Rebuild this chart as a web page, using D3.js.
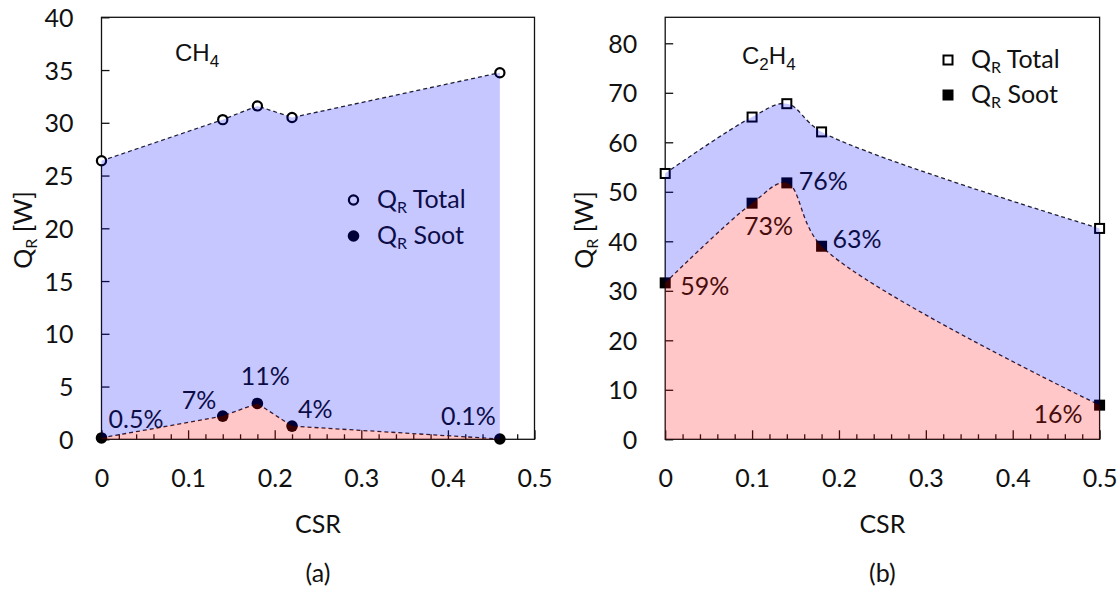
<!DOCTYPE html>
<html><head><meta charset="utf-8">
<script src="https://cdn.jsdelivr.net/npm/d3@7"></script>
<style>body{margin:0;background:#fff}svg{display:block}</style>
</head><body>
<svg id="chart" width="1117" height="594"></svg>
<script>
// ---- data ----
const csrCH4   = [0, 0.14, 0.18, 0.22, 0.46];
const totalCH4 = [26.4, 30.3, 31.6, 30.5, 34.75];
const sootCH4  = [0.13, 2.2, 3.4, 1.25, 0.03];
const pctCH4   = ["0.5%", "7%", "11%", "4%", "0.1%"];

const csrC2H4   = [0, 0.1, 0.14, 0.18, 0.5];
const totalC2H4 = [53.7, 65.1, 67.8, 62.1, 42.6];
const sootC2H4  = [31.6, 47.7, 51.8, 39.0, 6.9];
const pctC2H4   = ["59%", "73%", "76%", "63%", "16%"];

const xTickValues = [0, 0.1, 0.2, 0.3, 0.4, 0.5];
const xTickLabels = ["0", "0.1", "0.2", "0.3", "0.4", "0.5"];
const yTicksCH4 = [0, 5, 10, 15, 20, 25, 30, 35, 40];
const yTicksC2H4 = [0, 10, 20, 30, 40, 50, 60, 70, 80];
const legendLabels = ["Total", "Soot"];

// ---- layout ----
const FONT = "Lato, 'Open Sans', sans-serif";
const panels = [
  { csr: csrCH4, total: totalCH4, soot: sootCH4, pct: pctCH4, yTicks: yTicksCH4, yMax: 40,
    x0: 101.5, x1: 534.5, top: 17.3, bottom: 439.3, marker: "circle", curve: d3.curveLinear,
    title: ["CH", "4"], titleX: 175, titleY: 61, titleSub2: null,
    yTitleX: 32, legendX: 353.5, legendTextX: 377, legendY: [208, 244],
    letter: "(a)",
    pctLayout: [[7, -10, "start"], [-41, -7, "start"], [8, -18, "middle"], [6, -8, "start"], [-4, -14, "end"]] },
  { csr: csrC2H4, total: totalC2H4, soot: sootC2H4, pct: pctC2H4, yTicks: yTicksC2H4, yMax: 85.25,
    x0: 665.2, x1: 1099.6, top: 17.3, bottom: 439.3, marker: "square", curve: d3.curveCatmullRom.alpha(0.5),
    title: ["C", "2", "H", "4"], titleX: 742, titleY: 64,
    yTitleX: 593, legendX: 948, legendTextX: 971, legendY: [68, 103],
    letter: "(b)",
    pctLayout: [[15, 12, "start"], [-8, 32, "start"], [12, 7, "start"], [11, 2, "start"], [-17, 18, "end"]] }
];

const svg = d3.select("#chart");

panels.forEach(p => {
  const x = d3.scaleLinear().domain([0, 0.5]).range([p.x0, p.x1]);
  const y = d3.scaleLinear().domain([0, p.yMax]).range([p.bottom, p.top]);
  const g = svg.append("g");
  const pts = p.csr.map((c, i) => ({ c, t: p.total[i], s: p.soot[i], pct: p.pct[i], lay: p.pctLayout[i] }));

  // frame
  g.append("rect").attr("x", p.x0).attr("y", p.top).attr("width", p.x1 - p.x0).attr("height", p.bottom - p.top)
    .attr("fill", "none").attr("stroke", "#111").attr("stroke-width", 1.3);

  // y axis (ticks inward)
  const yAxis = d3.axisLeft(y).tickValues(p.yTicks).tickSize(-8).tickPadding(36).tickFormat(d3.format("d"));
  const ya = g.append("g").attr("transform", `translate(${p.x0},0)`).call(yAxis);
  ya.select(".domain").remove();
  ya.selectAll(".tick line").attr("stroke", "#111").attr("stroke-width", 1.3);
  ya.selectAll(".tick text").attr("font-family", FONT).attr("font-size", 25).attr("fill", "#111")
    .attr("x", -28).attr("dy", "0.36em");

  // x axis major ticks
  const xAxis = d3.axisBottom(x).tickValues(xTickValues).tickSize(-9).tickFormat((d, i) => xTickLabels[i]);
  const xa = g.append("g").attr("transform", `translate(0,${p.bottom})`).call(xAxis);
  xa.select(".domain").remove();
  xa.selectAll(".tick line").attr("stroke", "#111").attr("stroke-width", 1.3);
  xa.selectAll(".tick text").attr("font-family", FONT).attr("font-size", 25).attr("fill", "#111")
    .attr("y", 48).attr("dy", 0);
  // minor ticks
  const minor = d3.range(0, 0.5001, 0.02).filter(v => Math.abs(v * 10 - Math.round(v * 10)) > 1e-6);
  const xm = g.append("g").attr("transform", `translate(0,${p.bottom})`)
    .call(d3.axisBottom(x).tickValues(minor).tickSize(-5).tickFormat(""));
  xm.select(".domain").remove();
  xm.selectAll(".tick line").attr("stroke", "#111").attr("stroke-width", 1.3);

  // axis titles
  const cx = (p.x0 + p.x1) / 2;
  g.append("text").attr("x", cx).attr("y", 533).attr("text-anchor", "middle")
    .attr("font-family", FONT).attr("font-size", 25).attr("fill", "#111").text("CSR");
  g.append("text").attr("x", cx).attr("y", 582).attr("text-anchor", "middle")
    .attr("font-family", FONT).attr("font-size", 25).attr("fill", "#111").text(p.letter);
  const yt = g.append("text").attr("transform", `translate(${p.yTitleX},230) rotate(-90)`)
    .attr("text-anchor", "middle").attr("font-family", FONT).attr("font-size", 25).attr("fill", "#111");
  yt.append("tspan").text("Q");
  yt.append("tspan").attr("font-size", 16).attr("dy", 5).text("R");
  yt.append("tspan").attr("dy", -5).text(" [W]");

  // panel title (species)
  const tt = g.append("text").attr("x", p.titleX).attr("y", p.titleY)
    .attr("font-family", "'Liberation Sans', Arial, sans-serif").attr("font-size", 24).attr("fill", "#111");
  p.title.forEach((s, i) => {
    const sub = i % 2 === 1;
    tt.append("tspan").attr("font-size", sub ? 17 : 24).attr("dy", i === 0 ? 0 : (sub ? 6 : -6)).text(s);
  });

  // lines
  const lineT = d3.line().x(d => x(d.c)).y(d => y(d.t)).curve(p.curve);
  const lineS = d3.line().x(d => x(d.c)).y(d => y(d.s)).curve(p.curve);
  [lineT, lineS].forEach(l => g.append("path").attr("d", l(pts)).attr("fill", "none")
    .attr("stroke", "#222").attr("stroke-width", 1.3).attr("stroke-dasharray", "4,3"));

  // markers
  const drawMarker = (sel, px, py, filled) => {
    if (p.marker === "circle") {
      sel.append("circle").attr("cx", px).attr("cy", py).attr("r", filled ? 5.8 : 4.6)
        .attr("fill", filled ? "#000" : "#fff").attr("stroke", "#000").attr("stroke-width", filled ? 0 : 2.2);
    } else {
      const s = filled ? 11 : 9;
      sel.append("rect").attr("x", px - s / 2).attr("y", py - s / 2).attr("width", s).attr("height", s)
        .attr("fill", filled ? "#000" : "#fff").attr("stroke", "#000").attr("stroke-width", filled ? 0 : 2);
    }
  };
  pts.forEach(d => { drawMarker(g, x(d.c), y(d.t), false); drawMarker(g, x(d.c), y(d.s), true); });

  // percentage labels
  pts.forEach(d => {
    g.append("text").attr("x", x(d.c) + d.lay[0]).attr("y", y(d.s) + d.lay[1]).attr("text-anchor", d.lay[2])
      .attr("font-family", FONT).attr("font-size", 25).attr("fill", "#111").text(d.pct);
  });

  // legend
  legendLabels.forEach((lab, i) => {
    drawMarker(g, p.legendX, p.legendY[i] - 8, i === 1);
    const lt = g.append("text").attr("x", p.legendTextX).attr("y", p.legendY[i])
      .attr("font-family", FONT).attr("font-size", 25).attr("fill", "#111");
    lt.append("tspan").text("Q");
    lt.append("tspan").attr("font-size", 16).attr("dy", 5).text("R");
    lt.append("tspan").attr("dy", -5).text(" " + lab);
  });

  // translucent fills on top
  const areaBlue = d3.area().x(d => x(d.c)).y0(d => y(d.s)).y1(d => y(d.t)).curve(p.curve);
  const areaRed = d3.area().x(d => x(d.c)).y0(() => y(0)).y1(d => y(d.s)).curve(p.curve);
  g.append("path").attr("d", areaBlue(pts)).attr("fill", "#0000ff").attr("fill-opacity", 0.22);
  g.append("path").attr("d", areaRed(pts)).attr("fill", "#ff0000").attr("fill-opacity", 0.22);
});
</script>
</body></html>
